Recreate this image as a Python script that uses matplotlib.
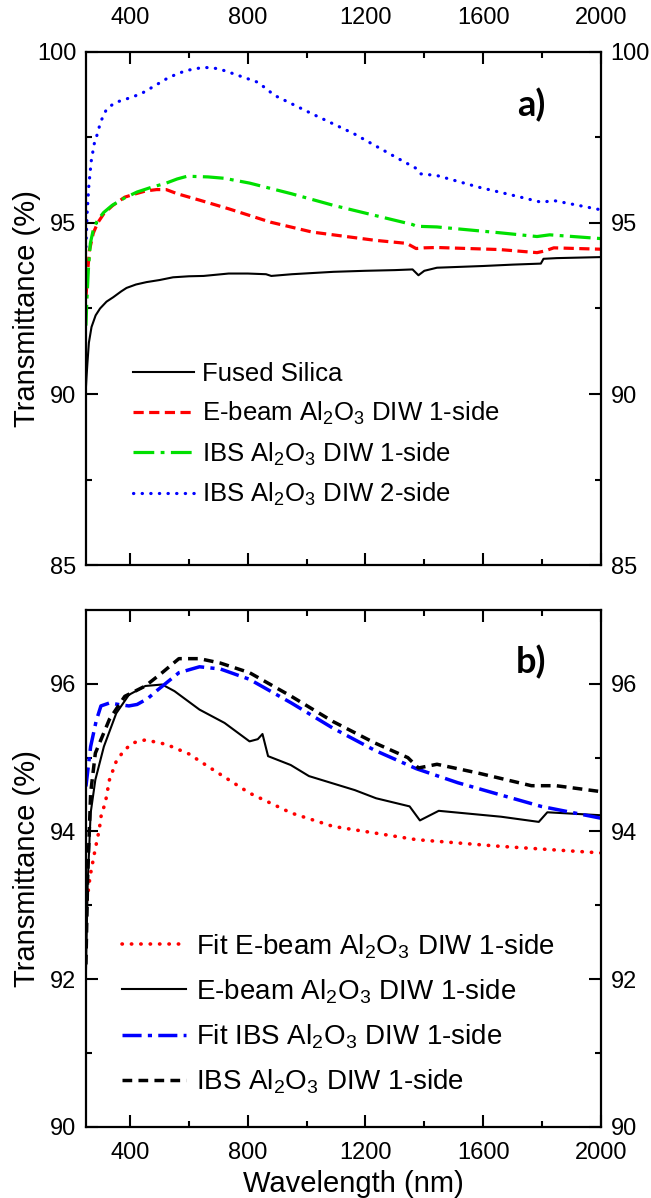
import numpy as np
from matplotlib import pyplot as plt

plt.rcParams['font.family'] = ['Liberation Sans', 'DejaVu Sans']
plt.rcParams['mathtext.default'] = 'regular'

# ---- panel a) ----
fs_x = [250, 252, 255, 260, 269, 283, 298, 320, 343, 370, 388, 420, 456, 500, 546, 600, 650, 735, 800, 862, 880, 950, 1091, 1200,
        1300, 1360, 1380, 1400, 1443, 1600, 1700, 1796, 1805, 1850, 2000]
fs_y = [90.2, 90.5, 90.9, 91.5, 91.96, 92.3, 92.5, 92.7, 92.83, 93.0, 93.1, 93.2, 93.27, 93.33, 93.41, 93.44, 93.45, 93.52, 93.52,
        93.5, 93.45, 93.5, 93.57, 93.6, 93.62, 93.64, 93.47, 93.6, 93.69, 93.74, 93.78, 93.81, 93.95, 93.97, 94.0]

eb_x = [250, 255, 262, 275, 290, 311, 340, 382, 420, 453, 490, 523, 560, 637, 735, 877, 1019, 1232, 1340, 1372, 1400, 1443,
        1656, 1783, 1810, 1840, 2000]
eb_y = [92.8, 93.5, 94.2, 94.7, 95.0, 95.27, 95.5, 95.75, 95.85, 95.93, 95.97, 95.97, 95.85, 95.66, 95.41, 95.02, 94.73,
        94.49, 94.4, 94.25, 94.27, 94.28, 94.22, 94.13, 94.18, 94.27, 94.23]

ib1_x = [250, 253, 258, 265, 275, 289, 310, 339, 380, 424, 470, 523, 560, 594, 665, 720, 806, 948, 1091, 1302, 1360, 1373,
         1443, 1656, 1783, 1826, 2000]
ib1_y = [92.0, 92.7, 93.6, 94.4, 94.8, 95.07, 95.3, 95.51, 95.72, 95.9, 96.03, 96.16, 96.28, 96.36, 96.34, 96.3, 96.16,
         95.85, 95.51, 95.07, 94.95, 94.9, 94.88, 94.71, 94.6, 94.65, 94.54]

ib2_x = [250, 254, 260, 268, 278, 289, 300, 318, 335, 353, 400, 438, 480, 523, 560, 594, 650, 700, 735, 835, 891, 1019,
         1161, 1302, 1370, 1387, 1443, 1585, 1727, 1798, 1840, 2000]
ib2_y = [94.3, 95.27, 96.1, 96.8, 97.3, 97.6, 97.95, 98.28, 98.42, 98.52, 98.65, 98.77, 98.98, 99.2, 99.35, 99.45, 99.54,
         99.5, 99.4, 99.1, 98.72, 98.18, 97.6, 96.92, 96.6, 96.43, 96.38, 96.04, 95.75, 95.6, 95.65, 95.38]

# ---- panel b) ----
feb_x = [250, 264, 281, 295, 303, 315, 330, 353, 380, 410, 452, 523, 600, 665, 806, 948, 1089, 1372, 1655, 2000]
feb_y = [92.95, 93.39, 93.75, 94.02, 94.25, 94.37, 94.7, 94.95, 95.1, 95.2, 95.24, 95.18, 95.05, 94.88, 94.52, 94.25,
         94.07, 93.89, 93.8, 93.71]

meb_x = [250, 256, 266, 282, 311, 353, 396, 452, 509, 551, 636, 721, 806, 834, 850, 869, 946, 1008, 1164, 1236, 1350,
         1385, 1449, 1661, 1789, 1818, 2000]
meb_y = [92.1, 93.3, 94.25, 94.7, 95.15, 95.6, 95.85, 95.97, 95.99, 95.9, 95.65, 95.47, 95.22, 95.25, 95.32, 95.02, 94.9,
         94.75, 94.56, 94.45, 94.34, 94.15, 94.28, 94.2, 94.13, 94.26, 94.22]

fib_x = [250, 266, 285, 301, 330, 360, 396, 424, 460, 495, 566, 636, 707, 806, 948, 1089, 1231, 1373, 1514, 1655, 1797, 2000]
fib_y = [94.61, 95.15, 95.5, 95.7, 95.74, 95.72, 95.7, 95.72, 95.8, 95.92, 96.15, 96.23, 96.2, 96.06, 95.74, 95.4, 95.1,
         94.85, 94.66, 94.5, 94.34, 94.18]

mib_x = [250, 256, 266, 282, 330, 382, 452, 509, 566, 636, 707, 806, 948, 1089, 1231, 1344, 1380, 1443, 1584, 1764, 1848, 2000]
mib_y = [92.2, 93.4, 94.52, 95.06, 95.52, 95.83, 95.97, 96.15, 96.34, 96.34, 96.28, 96.15, 95.83, 95.49, 95.2, 95.0, 94.86,
         94.91, 94.79, 94.62, 94.62, 94.54]

AL = 'Al$_\\mathregular{2}$O$_\\mathregular{3}$'

fig = plt.figure(figsize=(6.51, 11.98), dpi=100)
ax1 = fig.add_axes([0.132, 0.528, 0.791, 0.429])
ax2 = fig.add_axes([0.132, 0.0593, 0.791, 0.4316])

ax1.plot(fs_x, fs_y, color='black', lw=1.5, label='Fused Silica')
ax1.plot(eb_x, eb_y, color='#ff0000', lw=2.3, dashes=(3.2, 1.7), label='E-beam ' + AL + ' DIW 1-side')
ax1.plot(ib1_x, ib1_y, color='#00e000', lw=2.3, dashes=(6.5, 2.0, 1.2, 2.0), label='IBS ' + AL + ' DIW 1-side')
ax1.plot(ib2_x, ib2_y, color='#0000ff', lw=2.3, linestyle=(0, (0.1, 2.6)), dash_capstyle='round',
         label='IBS ' + AL + ' DIW 2-side')

ax2.plot(feb_x, feb_y, color='#ff0000', lw=2.6, linestyle=(0, (0.1, 2.5)), dash_capstyle='round',
         label='Fit E-beam ' + AL + ' DIW 1-side')
ax2.plot(meb_x, meb_y, color='black', lw=1.5, label='E-beam ' + AL + ' DIW 1-side')
ax2.plot(fib_x, fib_y, color='#0000ff', lw=2.5, dashes=(5.5, 1.8, 1.2, 1.8), label='Fit IBS ' + AL + ' DIW 1-side')
ax2.plot(mib_x, mib_y, color='black', lw=2.5, dashes=(2.8, 1.8), label='IBS ' + AL + ' DIW 1-side')

for ax in (ax1, ax2):
    ax.set_xlim(250, 2000)
    ax.set_xticks([400, 800, 1200, 1600, 2000])
    ax.set_xticks([600, 1000, 1400, 1800], minor=True)
    ax.tick_params(which='both', direction='in', top=True, right=True, width=1.5, labelsize=17)
    ax.tick_params(which='major', length=8.5)
    ax.tick_params(which='minor', length=4.5)
    ax.tick_params(axis='y', which='both', labelright=True, pad=7)
    for s in ax.spines.values():
        s.set_linewidth(1.6)
    ax.set_ylabel('Transmittance (%)', fontsize=21, va='center')
    ax.yaxis.set_label_coords(-0.115, 0.5)

ax1.set_ylim(85, 100)
ax1.set_yticks([85, 90, 95, 100])
ax1.set_yticks([87.5, 92.5, 97.5], minor=True)
ax1.tick_params(axis='x', which='both', labeltop=True, labelbottom=False, pad=16)

ax2.set_ylim(90, 97)
ax2.set_yticks([90, 92, 94, 96])
ax2.set_yticks([91, 93, 95], minor=True)
ax2.tick_params(axis='x', which='both', pad=11)
ax2.set_xlabel('Wavelength (nm)', fontsize=21, va='top')
ax2.xaxis.set_label_coords(0.52, -0.083)

ax1.text(0.865, 0.895, 'a)', transform=ax1.transAxes, fontsize=26, fontweight='bold', family='Lato',
         ha='center', va='center')
ax2.text(0.865, 0.9, 'b)', transform=ax2.transAxes, fontsize=26, fontweight='bold', family='Lato',
         ha='center', va='center')

ax1.legend(loc='upper left', bbox_to_anchor=(0.091, 0.395), frameon=False, fontsize=18.5, borderpad=0,
           borderaxespad=0, handlelength=2.4, handletextpad=0.3, labelspacing=0.52)
ax2.legend(loc='upper left', bbox_to_anchor=(0.07, 0.377), frameon=False, fontsize=20, borderpad=0,
           borderaxespad=0, handlelength=2.3, handletextpad=0.35, labelspacing=0.6)

plt.savefig('out.png', dpi=100)
